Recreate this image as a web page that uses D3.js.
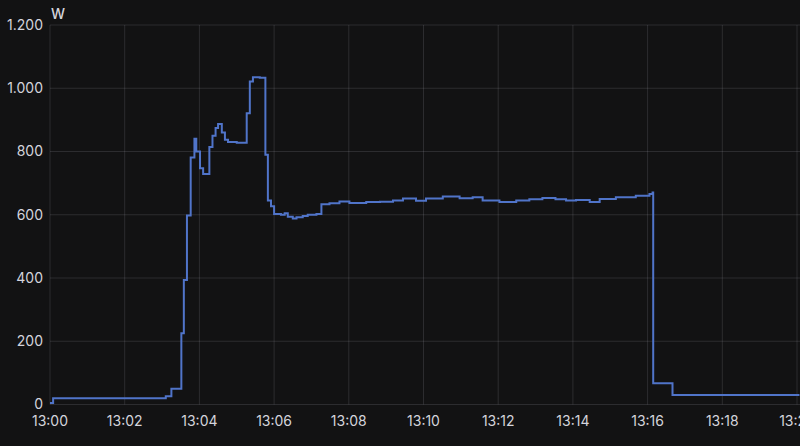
<!DOCTYPE html>
<html>
<head>
<meta charset="utf-8">
<script src="https://cdn.jsdelivr.net/npm/d3@7"></script>
<style>
  html, body { margin: 0; padding: 0; background: #121213; }
  #chart { width: 800px; height: 446px; }
  text { font-family: Inter, "Noto Sans", sans-serif; }
</style>
</head>
<body>
<div id="chart"></div>
<script>
// seconds after 13:00:00 and power in W (step-after samples)
const seconds = [0, 5, 186, 195, 211, 215, 220, 226, 232, 235, 241, 246, 256, 261, 266, 270, 276, 281, 286, 300,
  316, 321, 326, 337, 346, 350, 355, 360, 371, 377, 382, 390, 396, 406, 414, 428, 436, 449, 465, 481,
  508, 530, 551, 567, 588, 604, 631, 658, 679, 695, 722, 749, 770, 791, 812, 829, 845, 867, 883, 909,
  941, 963, 968, 969, 1000, 1204];
const watts = [5, 20, 26, 50, 225, 394, 598, 781, 840, 800, 747, 729, 814, 850, 874, 887, 860, 837, 830, 828,
  921, 1021, 1035, 1033, 790, 645, 627, 602, 600, 605, 594, 588, 592, 596, 600, 602, 633, 636, 642, 637,
  640, 641, 645, 651, 644, 651, 658, 652, 655, 645, 640, 645, 649, 653, 649, 645, 647, 640, 650, 655,
  660, 666, 670, 67, 30, 30];
const yTicks = [0, 200, 400, 600, 800, 1000, 1200];
const unitLabel = "W";

function draw() {
  const width = 800, height = 446;
  const base = new Date(2024, 0, 1, 13, 0, 0);
  const data = seconds.map((s, i) => ({ t: new Date(+base + s * 1000), v: watts[i] }));

  const svg = d3.select("#chart").append("svg")
    .attr("width", width)
    .attr("height", height);

  svg.append("rect").attr("width", width).attr("height", height).attr("fill", "#121213");

  const x = d3.scaleTime()
    .domain([base, new Date(+base + 20 * 60 * 1000)])
    .range([50, 797]);
  const y = d3.scaleLinear().domain([0, 1200]).range([404.5, 25]);

  const fmtY = d3.formatLocale({ decimal: ",", thousands: ".", grouping: [3], currency: ["", ""] }).format(",d");
  const xTicks = d3.timeMinute.every(2).range(base, new Date(+base + 21 * 60 * 1000));

  // grid
  svg.append("g").selectAll("line").data(yTicks).join("line")
    .attr("x1", 50).attr("x2", width)
    .attr("y1", d => y(d)).attr("y2", d => y(d))
    .attr("stroke", "#ccccdc").attr("stroke-opacity", 0.14);
  svg.append("g").selectAll("line").data(xTicks).join("line")
    .attr("x1", d => x(d)).attr("x2", d => x(d))
    .attr("y1", 25).attr("y2", 404.5)
    .attr("stroke", "#ccccdc").attr("stroke-opacity", 0.14);

  // y labels
  svg.append("g").selectAll("text").data(yTicks).join("text")
    .attr("x", 43).attr("y", d => y(d))
    .attr("dy", "0.35em")
    .attr("text-anchor", "end")
    .attr("fill", "#d4d4dc")
    .attr("font-size", 14)
    .text(d => fmtY(d));

  svg.append("text")
    .attr("x", 51).attr("y", 19)
    .attr("fill", "#d4d4dc")
    .attr("font-size", 14)
    .attr("font-weight", 500)
    .text(unitLabel);

  // x labels
  svg.append("g").selectAll("text").data(xTicks).join("text")
    .attr("x", d => x(d)).attr("y", 426)
    .attr("text-anchor", "middle")
    .attr("fill", "#d4d4dc")
    .attr("font-size", 14)
    .text(d => d3.timeFormat("%H:%M")(d));

  const line = d3.line()
    .x(d => x(d.t))
    .y(d => y(d.v))
    .curve(d3.curveStepAfter);

  svg.append("path")
    .datum(data)
    .attr("d", line)
    .attr("fill", "none")
    .attr("stroke", "#5074c9")
    .attr("stroke-width", 2);
}

draw();
</script>
</body>
</html>
